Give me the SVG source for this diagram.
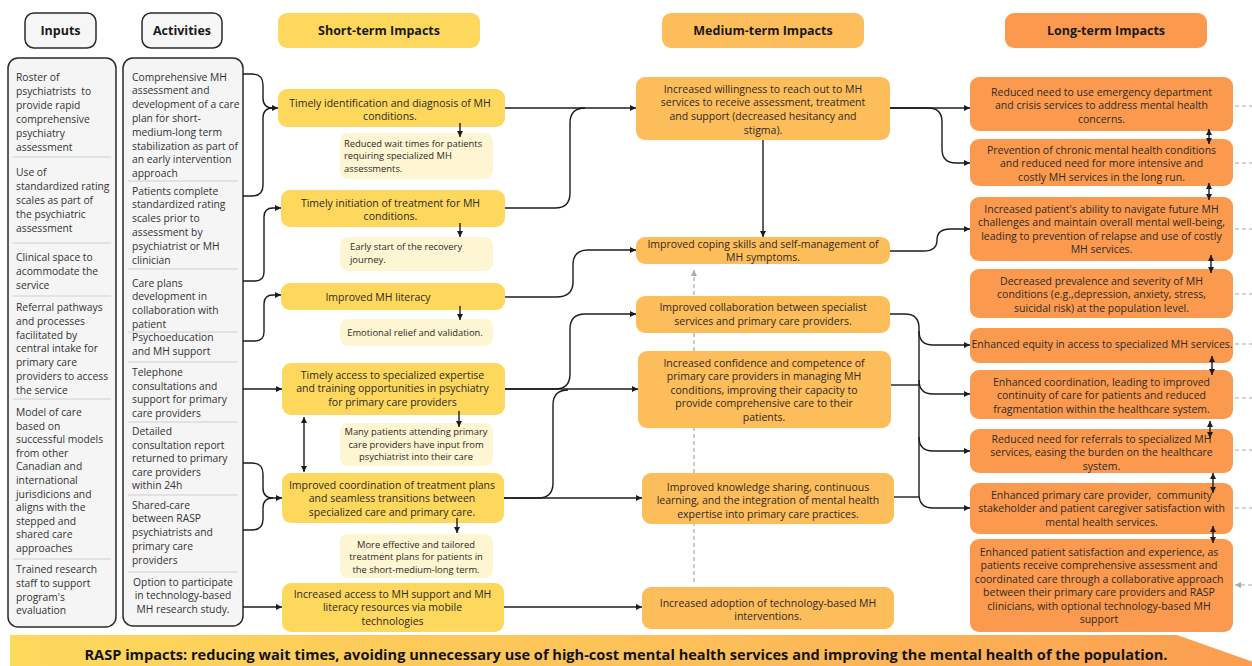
<svg xmlns="http://www.w3.org/2000/svg" width="1252" height="666" viewBox="0 0 1252 666">
<defs>
<linearGradient id="bang" x1="0" y1="0" x2="1" y2="0">
<stop offset="0" stop-color="#fdd95c"/>
<stop offset="0.55" stop-color="#fdbf58"/>
<stop offset="1" stop-color="#fb9d50"/>
</linearGradient>
<marker id="ah" viewBox="0 0 10 10" refX="10" refY="5" markerWidth="6" markerHeight="6" markerUnits="userSpaceOnUse" orient="auto-start-reverse"><path d="M0,0 L10,5 L0,10 z" fill="#1c1c1c"/></marker>
<marker id="ahg" viewBox="0 0 10 10" refX="10" refY="5" markerWidth="6" markerHeight="6" markerUnits="userSpaceOnUse" orient="auto-start-reverse"><path d="M0,0 L10,5 L0,10 z" fill="#aaaaaa"/></marker>
</defs>
<style>
text{font-family:"Open Sans","Liberation Sans",sans-serif;fill:#2e2a26}
.h{font-size:12.5px;font-weight:700;fill:#1a1a1a}
.p{font-size:10.3px;fill:#333}
.t{font-size:10.5px}
.s{font-size:9.4px}
.c{text-anchor:middle}
.hdrbox{fill:#f6f6f6;stroke:#2a2a2a;stroke-width:1.5}
.panel{fill:#f5f5f5;stroke:#2a2a2a;stroke-width:1.5}
.div{stroke:#cfcfcf;stroke-width:1.2}
.st{fill:#fdd85c}
.sub{fill:#fef5d3}
.md{fill:#fdbd5b}
.lg{fill:#fb9a4e}
.cn{fill:none;stroke:#1c1c1c;stroke-width:1.4}
.dg{fill:none;stroke:#aaaaaa;stroke-width:1.2;stroke-dasharray:4 3}
</style>

<g id="header-inputs">
<rect class="hdrbox" x="25" y="13" width="71" height="35" rx="9"/>
<text class="h c" x="60.5" y="35">Inputs</text>
</g>
<g id="header-activities">
<rect class="hdrbox" x="142" y="13" width="80" height="35" rx="9"/>
<text class="h c" x="182" y="35">Activities</text>
</g>
<g id="header-short">
<rect class="st" x="278" y="13" width="202" height="35" rx="9"/>
<text class="h c" x="379" y="35">Short-term Impacts</text>
</g>
<g id="header-medium">
<rect class="md" x="662" y="13" width="202" height="35" rx="9"/>
<text class="h c" x="763" y="35">Medium-term Impacts</text>
</g>
<g id="header-long">
<rect class="lg" x="1005" y="13" width="202" height="35" rx="9"/>
<text class="h c" x="1106" y="35">Long-term Impacts</text>
</g>

<g id="inputs">
<rect class="panel" x="8" y="58" width="108" height="569" rx="10"/>
<line class="div" x1="13" y1="157" x2="111" y2="157"/>
<line class="div" x1="13" y1="243" x2="111" y2="243"/>
<line class="div" x1="13" y1="296" x2="111" y2="296"/>
<line class="div" x1="13" y1="399" x2="111" y2="399"/>
<line class="div" x1="13" y1="559" x2="111" y2="559"/>
<text class="p" x="16" y="81"><tspan x="16">Roster of</tspan><tspan x="16" dy="14">psychiatrists&#160; to</tspan><tspan x="16" dy="14">provide rapid</tspan><tspan x="16" dy="14">comprehensive</tspan><tspan x="16" dy="14">psychiatry</tspan><tspan x="16" dy="14">assessment</tspan></text>
<text class="p" x="16" y="176"><tspan x="16">Use of</tspan><tspan x="16" dy="14">standardized rating</tspan><tspan x="16" dy="14">scales as part of</tspan><tspan x="16" dy="14">the psychiatric</tspan><tspan x="16" dy="14">assessment</tspan></text>
<text class="p" x="16" y="261"><tspan x="16">Clinical space to</tspan><tspan x="16" dy="14">acommodate the</tspan><tspan x="16" dy="14">service</tspan></text>
<text class="p" x="16" y="311"><tspan x="16">Referral pathways</tspan><tspan x="16" dy="13.8">and processes</tspan><tspan x="16" dy="13.8">facilitated by</tspan><tspan x="16" dy="13.8">central intake for</tspan><tspan x="16" dy="13.8">primary care</tspan><tspan x="16" dy="13.8">providers to access</tspan><tspan x="16" dy="13.8">the service</tspan></text>
<text class="p" x="16" y="416"><tspan x="16">Model of care</tspan><tspan x="16" dy="13.6">based on</tspan><tspan x="16" dy="13.6">successful models</tspan><tspan x="16" dy="13.6">from other</tspan><tspan x="16" dy="13.6">Canadian and</tspan><tspan x="16" dy="13.6">international</tspan><tspan x="16" dy="13.6">jurisdicions and</tspan><tspan x="16" dy="13.6">aligns with the</tspan><tspan x="16" dy="13.6">stepped and</tspan><tspan x="16" dy="13.6">shared care</tspan><tspan x="16" dy="13.6">approaches</tspan></text>
<text class="p" x="16" y="573"><tspan x="16">Trained research</tspan><tspan x="16" dy="13.8">staff to support</tspan><tspan x="16" dy="13.8">program's</tspan><tspan x="16" dy="13.8">evaluation</tspan></text>
</g>

<g id="activities">
<rect class="panel" x="123" y="58" width="120" height="568" rx="10"/>
<line class="div" x1="128" y1="181" x2="238" y2="181"/>
<line class="div" x1="128" y1="269" x2="238" y2="269"/>
<line class="div" x1="128" y1="332" x2="238" y2="332"/>
<line class="div" x1="128" y1="362" x2="238" y2="362"/>
<line class="div" x1="128" y1="422" x2="238" y2="422"/>
<line class="div" x1="128" y1="495" x2="238" y2="495"/>
<line class="div" x1="128" y1="572" x2="238" y2="572"/>
<text class="p" x="132" y="80.5"><tspan x="132">Comprehensive MH</tspan><tspan x="132" dy="13.8">assessment and</tspan><tspan x="132" dy="13.8">development of a care</tspan><tspan x="132" dy="13.8">plan for short-</tspan><tspan x="132" dy="13.8">medium-long term</tspan><tspan x="132" dy="13.8">stabilization as part of</tspan><tspan x="132" dy="13.8">an early intervention</tspan><tspan x="132" dy="13.8">approach</tspan></text>
<text class="p" x="132" y="194.5"><tspan x="132">Patients complete</tspan><tspan x="132" dy="13.8">standardized rating</tspan><tspan x="132" dy="13.8">scales prior to</tspan><tspan x="132" dy="13.8">assessment by</tspan><tspan x="132" dy="13.8">psychiatrist or MH</tspan><tspan x="132" dy="13.8">clinician</tspan></text>
<text class="p" x="132" y="286.5"><tspan x="132">Care plans</tspan><tspan x="132" dy="13.8">development in</tspan><tspan x="132" dy="13.8">collaboration with</tspan><tspan x="132" dy="13.8">patient</tspan></text>
<text class="p" x="132" y="341"><tspan x="132">Psychoeducation</tspan><tspan x="132" dy="14">and MH support</tspan></text>
<text class="p" x="132" y="376"><tspan x="132">Telephone</tspan><tspan x="132" dy="13.6">consultations and</tspan><tspan x="132" dy="13.6">support for primary</tspan><tspan x="132" dy="13.6">care providers</tspan></text>
<text class="p" x="132" y="435"><tspan x="132">Detailed</tspan><tspan x="132" dy="13.6">consultation report</tspan><tspan x="132" dy="13.6">returned to primary</tspan><tspan x="132" dy="13.6">care providers</tspan><tspan x="132" dy="13.6">within 24h</tspan></text>
<text class="p" x="132" y="508.5"><tspan x="132">Shared-care</tspan><tspan x="132" dy="13.8">between RASP</tspan><tspan x="132" dy="13.8">psychiatrists and</tspan><tspan x="132" dy="13.8">primary care</tspan><tspan x="132" dy="13.8">providers</tspan></text>
<text class="p c" x="183" y="585.5"><tspan x="183">Option to participate</tspan><tspan x="183" dy="13.6">in technology-based</tspan><tspan x="183" dy="13.6">MH research study.</tspan></text>
</g>

<g id="st1">
<rect class="st" x="278" y="89" width="227" height="38" rx="9"/>
<text class="t c" x="390" y="106.5"><tspan x="390">Timely identification and diagnosis of MH</tspan><tspan x="390" dy="13.7">conditions.</tspan></text>
</g>
<g id="st1-sub">
<rect class="sub" x="340" y="133" width="153" height="46" rx="8"/>
<text class="s" x="344" y="147"><tspan x="344">Reduced wait times for patients</tspan><tspan x="344" dy="12.3">requiring specialized MH</tspan><tspan x="344" dy="12.3">assessments.</tspan></text>
</g>
<g id="st2">
<rect class="st" x="281" y="190" width="224" height="37" rx="9"/>
<text class="t c" x="390.5" y="206.5"><tspan x="390.5">Timely initiation of treatment for MH</tspan><tspan x="390.5" dy="13.7">conditions.</tspan></text>
</g>
<g id="st2-sub">
<rect class="sub" x="340" y="237" width="153" height="34" rx="8"/>
<text class="s" x="350" y="250"><tspan x="350">Early start of the recovery</tspan><tspan x="350" dy="12.5">journey.</tspan></text>
</g>
<g id="st3">
<rect class="st" x="281" y="283" width="224" height="27" rx="9"/>
<text class="t c" x="378" y="300.5">Improved MH literacy</text>
</g>
<g id="st3-sub">
<rect class="sub" x="340" y="319" width="153" height="27" rx="8"/>
<text class="s c" x="415" y="336">Emotional relief and validation.</text>
</g>
<g id="st4">
<rect class="st" x="282" y="363" width="223" height="52" rx="9"/>
<text class="t c" x="392.5" y="378.5"><tspan x="392.5">Timely access to specialized expertise</tspan><tspan x="392.5" dy="13.5">and training opportunities in psychiatry</tspan><tspan x="392.5" dy="13.5">for primary care providers</tspan></text>
</g>
<g id="st4-sub">
<rect class="sub" x="340" y="423" width="153" height="43" rx="8"/>
<text class="s c" x="416" y="435"><tspan x="416">Many patients attending primary</tspan><tspan x="416" dy="12.5">care providers have input from</tspan><tspan x="416" dy="12.5">psychiatrist into their care</tspan></text>
</g>
<g id="st5">
<rect class="st" x="282" y="473" width="222" height="50" rx="9"/>
<text class="t c" x="392" y="488.5"><tspan x="392">Improved coordination of treatment plans</tspan><tspan x="392" dy="13.5">and seamless transitions between</tspan><tspan x="392" dy="13.5">specialized care and primary care.</tspan></text>
</g>
<g id="st5-sub">
<rect class="sub" x="340" y="534" width="153" height="44" rx="8"/>
<text class="s c" x="416" y="547.5"><tspan x="416">More effective and tailored</tspan><tspan x="416" dy="12.5">treatment plans for patients in</tspan><tspan x="416" dy="12.5">the short-medium-long term.</tspan></text>
</g>
<g id="st6">
<rect class="st" x="282" y="583" width="222" height="49" rx="9"/>
<text class="t c" x="392.5" y="597.5"><tspan x="392.5">Increased access to MH support and MH</tspan><tspan x="392.5" dy="13.5">literacy resources via mobile</tspan><tspan x="392.5" dy="13.5">technologies</tspan></text>
</g>

<g id="md1">
<rect class="md" x="636" y="77" width="254" height="63" rx="9"/>
<text class="t c" x="763" y="92.5"><tspan x="763">Increased willingness to reach out to MH</tspan><tspan x="763" dy="13.8">services to receive assessment, treatment</tspan><tspan x="763" dy="13.8">and support (decreased hesitancy and</tspan><tspan x="763" dy="13.8">stigma).</tspan></text>
</g>
<g id="md2">
<rect class="md" x="636" y="237" width="254" height="27" rx="9"/>
<text class="t c" x="763" y="247.5"><tspan x="763">Improved coping skills and self-management of</tspan><tspan x="763" dy="13.5">MH symptoms.</tspan></text>
</g>
<g id="md3">
<rect class="md" x="636" y="296" width="254" height="37" rx="9"/>
<text class="t c" x="763" y="310.5"><tspan x="763">Improved collaboration between specialist</tspan><tspan x="763" dy="14">services and primary care providers.</tspan></text>
</g>
<g id="md4">
<rect class="md" x="638" y="351" width="253" height="77" rx="9"/>
<text class="t c" x="764" y="366.5"><tspan x="764">Increased confidence and competence of</tspan><tspan x="764" dy="13.5">primary care providers in managing MH</tspan><tspan x="764" dy="13.5">conditions, improving their capacity to</tspan><tspan x="764" dy="13.5">provide comprehensive care to their</tspan><tspan x="764" dy="13.5">patients.</tspan></text>
</g>
<g id="md5">
<rect class="md" x="642" y="473" width="252" height="51" rx="9"/>
<text class="t c" x="768" y="490.5"><tspan x="768">Improved knowledge sharing, continuous</tspan><tspan x="768" dy="13.5">learning, and the integration of mental health</tspan><tspan x="768" dy="13.5">expertise into primary care practices.</tspan></text>
</g>
<g id="md6">
<rect class="md" x="642" y="587" width="252" height="42" rx="9"/>
<text class="t c" x="768" y="606.5"><tspan x="768">Increased adoption of technology-based MH</tspan><tspan x="768" dy="13.5">interventions.</tspan></text>
</g>

<g id="lg1">
<rect class="lg" x="970" y="77" width="263" height="54" rx="9"/>
<text class="t c" x="1101.5" y="95.5"><tspan x="1101.5">Reduced need to use emergency department</tspan><tspan x="1101.5" dy="13.7">and crisis services to address mental health</tspan><tspan x="1101.5" dy="13.7">concerns.</tspan></text>
</g>
<g id="lg2">
<rect class="lg" x="970" y="139" width="263" height="47" rx="9"/>
<text class="t c" x="1101.5" y="153.5"><tspan x="1101.5">Prevention of chronic mental health conditions</tspan><tspan x="1101.5" dy="13.5">and reduced need for more intensive and</tspan><tspan x="1101.5" dy="13.5">costly MH services in the long run.</tspan></text>
</g>
<g id="lg3">
<rect class="lg" x="970" y="197" width="263" height="64" rx="9"/>
<text class="t c" x="1101.5" y="212.5"><tspan x="1101.5">Increased patient's ability to navigate future MH</tspan><tspan x="1101.5" dy="13.5">challenges and maintain overall mental well-being,</tspan><tspan x="1101.5" dy="13.5">leading to prevention of relapse and use of costly</tspan><tspan x="1101.5" dy="13.5">MH services.</tspan></text>
</g>
<g id="lg4">
<rect class="lg" x="970" y="269" width="263" height="49" rx="9"/>
<text class="t c" x="1101.5" y="284.5"><tspan x="1101.5">Decreased prevalence and severity of MH</tspan><tspan x="1101.5" dy="13.5">conditions (e.g.,depression, anxiety, stress,</tspan><tspan x="1101.5" dy="13.5">suicidal risk) at the population level.</tspan></text>
</g>
<g id="lg5">
<rect class="lg" x="970" y="328" width="263" height="35" rx="9"/>
<text class="t c" x="1102" y="347.5">Enhanced equity in access to specialized MH services.</text>
</g>
<g id="lg6">
<rect class="lg" x="970" y="370" width="263" height="49" rx="9"/>
<text class="t c" x="1101.5" y="385.5"><tspan x="1101.5">Enhanced coordination, leading to improved</tspan><tspan x="1101.5" dy="13.5">continuity of care for patients and reduced</tspan><tspan x="1101.5" dy="13.5">fragmentation within the healthcare system.</tspan></text>
</g>
<g id="lg7">
<rect class="lg" x="970" y="429" width="263" height="44" rx="9"/>
<text class="t c" x="1101.5" y="442.5"><tspan x="1101.5">Reduced need for referrals to specialized MH</tspan><tspan x="1101.5" dy="13.5">services, easing the burden on the healthcare</tspan><tspan x="1101.5" dy="13.5">system.</tspan></text>
</g>
<g id="lg8">
<rect class="lg" x="970" y="483" width="263" height="51" rx="9"/>
<text class="t c" x="1101.5" y="498.5"><tspan x="1101.5">Enhanced primary care provider,&#160; community</tspan><tspan x="1101.5" dy="13.5">stakeholder and patient caregiver satisfaction with</tspan><tspan x="1101.5" dy="13.5">mental health services.</tspan></text>
</g>
<g id="lg9">
<rect class="lg" x="970" y="539" width="263" height="93" rx="9"/>
<text class="t c" x="1099" y="555.5"><tspan x="1099">Enhanced patient satisfaction and experience, as</tspan><tspan x="1099" dy="13.5">patients receive comprehensive assessment and</tspan><tspan x="1099" dy="13.5">coordinated care through a collaborative approach</tspan><tspan x="1099" dy="13.5">between their primary care providers and RASP</tspan><tspan x="1099" dy="13.5">clinicians, with optional technology-based MH</tspan><tspan x="1099" dy="13.5">support</tspan></text>
</g>

<g id="banner">
<polygon points="10,635 1177,635 1265,666 10,666" fill="url(#bang)"/>
<text x="626" y="660" class="c" style="font-size:13.8px;font-weight:700;fill:#141414" textLength="1083" lengthAdjust="spacingAndGlyphs">RASP impacts: reducing wait times, avoiding unnecessary use of high-cost mental health services and improving the mental health of the population.</text>
</g>

<g id="connectors">
<!-- activities to short-term -->
<path class="cn" d="M243,74 H252 Q263,74 263,85 V98 Q263,108 273,108 H278" marker-end="url(#ah)"/>
<path class="cn" d="M243,196 H252 Q263,196 263,185 V118 Q263,108 273,108"/>
<path class="cn" d="M243,281 H255 Q264,281 264,272 V217 Q264,208 273,208 H281" marker-end="url(#ah)"/>
<path class="cn" d="M243,341 H255 Q264,341 264,332 V304 Q264,295 273,295 H281" marker-end="url(#ah)"/>
<path class="cn" d="M243,389 H282" marker-end="url(#ah)"/>
<path class="cn" d="M243,463 H252 Q263,463 263,474 V488 Q263,498 273,498 H282" marker-end="url(#ah)"/>
<path class="cn" d="M243,530 H252 Q263,530 263,519 V508 Q263,498 273,498"/>
<path class="cn" d="M243,607 H282" marker-end="url(#ah)"/>
<!-- short-term to sub outcomes -->
<path class="cn" d="M460,123 V137" marker-end="url(#ah)"/>
<path class="cn" d="M460,223 V237" marker-end="url(#ah)"/>
<path class="cn" d="M460,306 V320" marker-end="url(#ah)"/>
<path class="cn" d="M459,411 V427" marker-end="url(#ah)"/>
<path class="cn" d="M457,518 V533" marker-end="url(#ah)"/>
<path class="cn" d="M304,417 V472" marker-start="url(#ah)" marker-end="url(#ah)"/>
<!-- short-term to medium-term -->
<path class="cn" d="M505,108 H636" marker-end="url(#ah)"/>
<path class="cn" d="M505,208 H555 Q570,208 570,193 V123 Q570,108 585,108"/>
<path class="cn" d="M505,297 H556 Q573,297 573,282 V265 Q573,250 588,250 H636" marker-end="url(#ah)"/>
<path class="cn" d="M505,389 H638" marker-end="url(#ah)"/>
<path class="cn" d="M505,389 H555 Q570,389 570,374 V329 Q570,314 585,314 H636" marker-end="url(#ah)"/>
<path class="cn" d="M504,498 H642" marker-end="url(#ah)"/>
<path class="cn" d="M504,498 H538 Q553,498 553,483 V405 Q553,390 568,390"/>
<path class="cn" d="M504,607 H642" marker-end="url(#ah)"/>
<!-- medium internal -->
<path class="cn" d="M763,140 V237" marker-end="url(#ah)"/>
<path class="dg" d="M694,295 V270" marker-end="url(#ahg)"/>
<path class="dg" d="M694,351 V333 M694,473 V428 M694,582 V524"/>
<!-- medium to long-term -->
<path class="cn" d="M890,108 H970" marker-end="url(#ah)"/>
<path class="cn" d="M890,108 H928 Q942,108 942,122 V149 Q942,163 956,163 H970" marker-end="url(#ah)"/>
<path class="cn" d="M890,251 H924 Q937,251 937,240 Q937,229 950,229 H970" marker-end="url(#ah)"/>
<path class="cn" d="M890,314 H905 Q919,314 919,328 V494 Q919,508 933,508 H970" marker-end="url(#ah)"/>
<path class="cn" d="M891,385 H919"/>
<path class="cn" d="M894,497 H919"/>
<path class="cn" d="M919,331 Q919,345 933,345 H970" marker-end="url(#ah)"/>
<path class="cn" d="M919,380 Q919,394 933,394 H970" marker-end="url(#ah)"/>
<path class="cn" d="M919,437 Q919,451 933,451 H970" marker-end="url(#ah)"/>
<!-- long-term internal -->
<path class="cn" d="M1209,129 V144" marker-start="url(#ah)" marker-end="url(#ah)"/>
<path class="cn" d="M1209,183 V200" marker-start="url(#ah)" marker-end="url(#ah)"/>
<path class="cn" d="M1211,255 V273" marker-start="url(#ah)" marker-end="url(#ah)"/>
<path class="cn" d="M1212,356 V375" marker-start="url(#ah)" marker-end="url(#ah)"/>
<path class="cn" d="M1210,421 V438" marker-start="url(#ah)" marker-end="url(#ah)"/>
<path class="cn" d="M1213,473 V493" marker-start="url(#ah)" marker-end="url(#ah)"/>
<path class="cn" d="M1213,526 V543" marker-start="url(#ah)" marker-end="url(#ah)"/>
<!-- dashed lines to the right -->
<path class="dg" d="M1235,106 H1252 M1235,163 H1252 M1235,229 H1252 M1235,294 H1252 M1235,344 H1252 M1235,398 H1252 M1235,450 H1252 M1235,508 H1252"/>
<path class="dg" d="M1252,585 H1235" marker-end="url(#ahg)"/>
</g>
</svg>
